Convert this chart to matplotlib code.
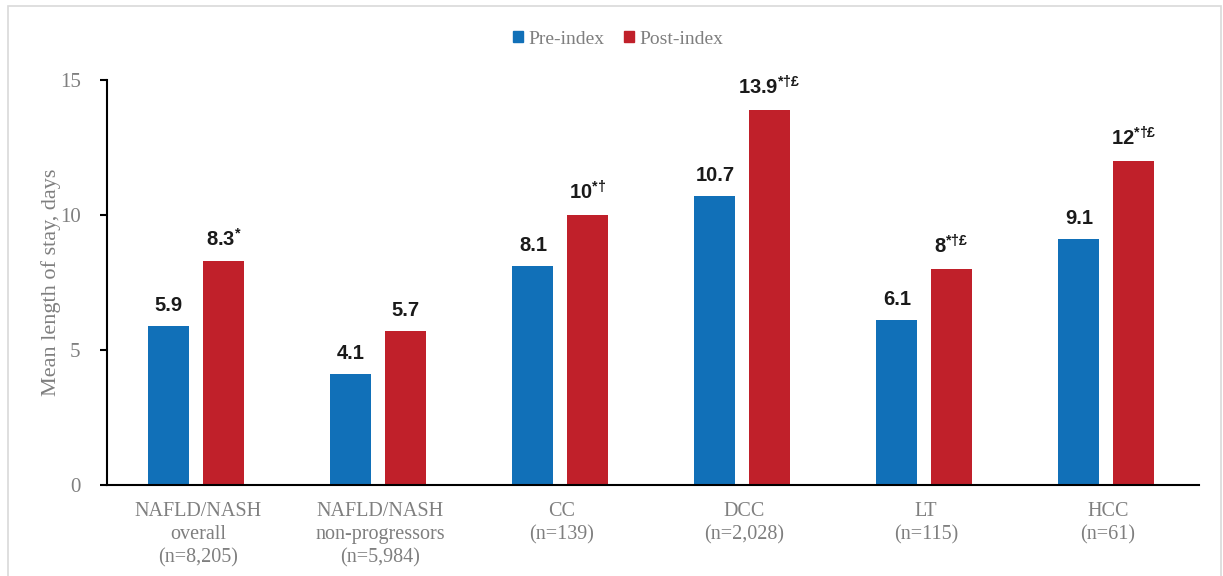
import matplotlib.pyplot as plt
import numpy as np
from matplotlib.patches import Rectangle, Patch

# Data
categories = ['NAFLD/NASH\noverall\n(n=8,205)', 'NAFLD/NASH\nnon-progressors\n(n=5,984)',
              'CC\n(n=139)', 'DCC\n(n=2,028)', 'LT\n(n=115)', 'HCC\n(n=61)']
pre_index = [5.9, 4.1, 8.1, 10.7, 6.1, 9.1]
post_index = [8.3, 5.7, 10, 13.9, 8, 12]
pre_labels = ['5.9', '4.1', '8.1', '10.7', '6.1', '9.1']
post_labels = ['8.3', '5.7', '10', '13.9', '8', '12']
post_marks = ['*', '', '*†', '*†£', '*†£', '*†£']

blue = '#1170b8'
red = '#c0202a'
grey = '#7f7f7f'

plt.rcParams['mathtext.fontset'] = 'custom'
plt.rcParams['mathtext.bf'] = 'Liberation Sans:bold'
plt.rcParams['mathtext.rm'] = 'Liberation Sans:bold'

fig = plt.figure(figsize=(12.23, 5.76), dpi=100)
ax = fig.add_axes([107 / 1223, 1 - 485 / 576, (1199 - 107) / 1223, (485 - 80) / 576])

x = np.arange(len(categories))
w = 0.225
off = 0.15
ax.bar(x - off - 0.01, pre_index, w, color=blue)
ax.bar(x + off - 0.01, post_index, w, color=red)

for i in range(len(x)):
    ax.annotate(pre_labels[i], (x[i] - off - 0.01, pre_index[i]), xytext=(0, 8),
                textcoords='offset points', ha='center', va='bottom',
                fontsize=14.5, fontweight='bold', family='Liberation Sans', color='#1a1a1a')
    if post_marks[i]:
        s = r'$\mathbf{' + post_labels[i] + r'}^{\mathbf{' + post_marks[i] + r'}}$'
    else:
        s = post_labels[i]
    ax.annotate(s, (x[i] + off - 0.01, post_index[i]), xytext=(0, 8),
                textcoords='offset points', ha='center', va='bottom',
                fontsize=14.5, fontweight='bold', family='Liberation Sans', color='#1a1a1a')

ax.set_xlim(-0.5, 5.5)
ax.set_ylim(0, 15)
ax.set_yticks([0, 5, 10, 15])
ax.set_xticks(x)
ax.set_xticklabels(categories, family='Liberation Serif', fontsize=14.5, color=grey, linespacing=1.3)
ax.tick_params(axis='x', length=0, pad=12)
ax.tick_params(axis='y', direction='out', length=5, width=1.5, labelsize=15, labelcolor=grey, pad=14)
for lab in ax.get_yticklabels():
    lab.set_family('Liberation Serif')
ax.spines['top'].set_visible(False)
ax.spines['right'].set_visible(False)
ax.spines['left'].set_linewidth(1.5)
ax.spines['bottom'].set_linewidth(1.5)
ax.set_ylabel('Mean length of stay, days', family='Liberation Serif', fontsize=16, color=grey)
ax.yaxis.set_label_coords(-46 / 1092, 0.5)

handles = [Patch(color=blue, label='Pre-index'), Patch(color=red, label='Post-index')]
fig.legend(handles=handles, loc='center', bbox_to_anchor=(0.5 + 7 / 1223, 1 - 39 / 576), ncol=2, frameon=False,
           handlelength=0.5, handleheight=0.5, handletextpad=0.3, columnspacing=1.0,
           prop={'family': 'Liberation Serif', 'size': 14}, labelcolor=grey)

fig.patches.append(Rectangle((8 / 1223, -0.01), (1221 - 8) / 1223, 1 - 6 / 576 + 0.01,
                             transform=fig.transFigure, fill=False, edgecolor='#d9d9d9', linewidth=1.2))

fig.savefig('out.png', dpi=100)
